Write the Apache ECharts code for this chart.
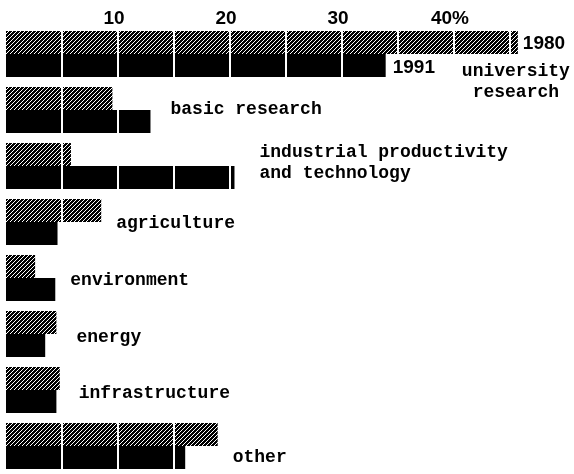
<!DOCTYPE html>
<html>
<head>
<meta charset="utf-8">
<script src="https://cdn.jsdelivr.net/npm/echarts@6/dist/echarts.min.js"></script>
<style>
  html, body { margin: 0; padding: 0; background: #fff; }
  #chart { width: 574px; height: 474px; }
</style>
</head>
<body>
<div id="chart"></div>
<script>
const categories = [
  'university\nresearch',
  'basic research',
  'industrial productivity\nand technology',
  'agriculture',
  'environment',
  'energy',
  'infrastructure',
  'other'
];
const years = ['1980', '1991'];
const share1980 = [45.7, 9.5, 5.8, 8.5, 2.6, 4.5, 4.8, 18.9];
const share1991 = [33.9, 12.9, 20.4, 4.6, 4.4, 3.5, 4.5, 16.0];
const tickValues = [10, 20, 30, 40];
const blockSteps = [5, 10, 15, 20, 25, 30, 35, 40, 45];

// small pixel nudges for the category names [dx, dy]
const nameShift = [[-2, 28], [5, -1], [10, -3], [0, 1], [0, 2], [5, 3], [4, 3], [0, 11]];

// black with white diagonal hatching, for the 1980 bars
function hatch() {
  const c = document.createElement('canvas');
  c.width = 4; c.height = 4;
  const ctx = c.getContext('2d');
  ctx.fillStyle = '#000';
  ctx.fillRect(0, 0, 4, 4);
  ctx.fillStyle = '#fff';
  for (let i = 0; i < 4; i++) ctx.fillRect(3 - i, i, 1, 1);
  return c;
}

const chart = echarts.init(document.getElementById('chart'));
const BAR = 23;
const yearFont = { fontFamily: 'Liberation Sans', fontWeight: 'bold', fontSize: 19, color: '#000' };
const nameFont = { fontFamily: 'Liberation Mono', fontWeight: 'bold', fontSize: 18, color: '#000', lineHeight: 21 };

const option = {
  backgroundColor: '#fff',
  animation: false,
  grid: { left: 6, right: 8, top: 26, height: 454 },
  xAxis: {
    type: 'value',
    position: 'top',
    min: 0,
    max: 50,
    interval: 10,
    axisLine: { show: false },
    axisTick: { show: false },
    splitLine: { show: false },
    axisLabel: {
      margin: -2,
      padding: [0, 8, 0, 0],
      fontFamily: 'Liberation Sans',
      fontWeight: 'bold',
      fontSize: 19,
      color: '#000',
      formatter: v => v === 40 ? '40%' : (tickValues.includes(v) ? String(v) : '')
    }
  },
  yAxis: {
    type: 'category',
    inverse: true,
    data: categories,
    show: false
  },
  series: [
    {
      name: '1980',
      type: 'bar',
      barWidth: BAR,
      barGap: '0%',
      itemStyle: { color: { image: hatch(), repeat: 'repeat' } },
      data: share1980
    },
    {
      name: '1991',
      type: 'bar',
      barWidth: BAR,
      barGap: '0%',
      itemStyle: { color: '#000' },
      data: share1991
    },
    {
      // white gaps every 5%
      type: 'line',
      data: [],
      z: 5,
      markLine: {
        silent: true,
        symbol: 'none',
        label: { show: false },
        lineStyle: { color: '#fff', width: 2, type: 'solid' },
        data: blockSteps.map(s => ({ xAxis: s }))
      }
    },
    {
      // year tags at the end of the first pair of bars
      type: 'scatter',
      symbolSize: 0,
      z: 10,
      itemStyle: { opacity: 1 },
      data: [share1980[0], share1991[0]].map((v, k) => ({
        value: [v, categories[0]],
        label: Object.assign({
          show: true,
          formatter: years[k],
          position: 'right',
          distance: k === 0 ? 5 : 7,
          offset: [0, k === 0 ? -BAR / 2 + 1 : BAR / 2 + 2]
        }, yearFont)
      }))
    },
    {
      type: 'scatter',
      symbolSize: 0,
      z: 10,
      itemStyle: { opacity: 1 },
      data: categories.map((c, i) => ({
        value: [Math.max(share1980[i], share1991[i]), c],
        label: Object.assign({
          show: true,
          formatter: c,
          position: i === 0 ? 'inside' : 'right',
          distance: 15,
          align: i === 0 ? 'center' : 'left',
          offset: nameShift[i]
        }, nameFont)
      }))
    }
  ]
};

chart.setOption(option);
</script>
</body>
</html>
